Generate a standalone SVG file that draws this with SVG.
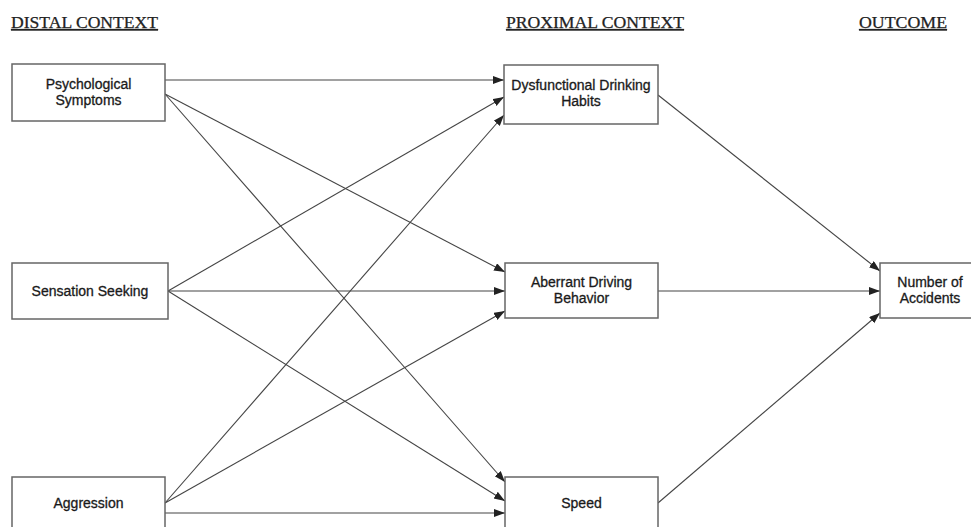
<svg xmlns="http://www.w3.org/2000/svg" width="971" height="527" viewBox="0 0 971 527">
<style>
.hdr{font-family:"Liberation Serif","Times New Roman",serif;font-size:16px;fill:#222;stroke:#222;stroke-width:0.25;text-decoration:underline}
.box{fill:#fff;stroke:#666;stroke-width:1.5}
.lbl{font-family:"Liberation Sans",Arial,sans-serif;font-size:14px;fill:#1a1a1a;stroke:#1a1a1a;stroke-width:0.3;text-anchor:middle}
.edge{stroke:#444;stroke-width:1.1;fill:none;marker-end:url(#ah)}
</style>
<defs>
<marker id="ah" markerUnits="userSpaceOnUse" markerWidth="12" markerHeight="10" refX="11" refY="4" orient="auto">
<path d="M0,0 L11,4 L0,8 Z" fill="#222"/>
</marker>
</defs>
<rect width="971" height="527" fill="#fff"/>
<text class="hdr" x="11" y="28" textLength="147" lengthAdjust="spacingAndGlyphs">DISTAL CONTEXT</text>
<text class="hdr" x="506" y="28" textLength="178" lengthAdjust="spacingAndGlyphs">PROXIMAL CONTEXT</text>
<text class="hdr" x="859" y="28" textLength="88" lengthAdjust="spacingAndGlyphs">OUTCOME</text>
<g id="connectors">
<line class="edge" x1="165" y1="80" x2="504" y2="80"/>
<line class="edge" x1="165" y1="94" x2="505" y2="272"/>
<line class="edge" x1="165" y1="94" x2="505" y2="482"/>
<line class="edge" x1="168" y1="291" x2="504" y2="97"/>
<line class="edge" x1="168" y1="291" x2="505" y2="291"/>
<line class="edge" x1="168" y1="291" x2="505" y2="501"/>
<line class="edge" x1="165" y1="503" x2="504" y2="115"/>
<line class="edge" x1="165" y1="503" x2="505" y2="311"/>
<line class="edge" x1="165" y1="513" x2="505" y2="513"/>
<line class="edge" x1="658" y1="95" x2="880" y2="271"/>
<line class="edge" x1="658" y1="291" x2="880" y2="291"/>
<line class="edge" x1="658" y1="503" x2="880" y2="313"/>
</g>
<g id="psych"><rect class="box" x="12" y="64" width="153" height="57"/><text class="lbl" x="88.5" y="89">Psychological</text><text class="lbl" x="88.5" y="105">Symptoms</text></g>
<g id="sensation"><rect class="box" x="12" y="263" width="156" height="56"/><text class="lbl" x="90" y="296">Sensation Seeking</text></g>
<g id="aggression"><rect class="box" x="12" y="477" width="153" height="57"/><text class="lbl" x="88.5" y="508">Aggression</text></g>
<g id="drinking"><rect class="box" x="504" y="65" width="154" height="59"/><text class="lbl" x="581" y="90">Dysfunctional Drinking</text><text class="lbl" x="581" y="106">Habits</text></g>
<g id="aberrant"><rect class="box" x="505" y="263" width="153" height="55"/><text class="lbl" x="581.5" y="287">Aberrant Driving</text><text class="lbl" x="581.5" y="303">Behavior</text></g>
<g id="speed"><rect class="box" x="505" y="477" width="153" height="57"/><text class="lbl" x="581.5" y="508">Speed</text></g>
<g id="accidents"><rect class="box" x="880" y="263" width="100" height="55"/><text class="lbl" x="930" y="287">Number of</text><text class="lbl" x="930" y="303">Accidents</text></g>
</svg>
